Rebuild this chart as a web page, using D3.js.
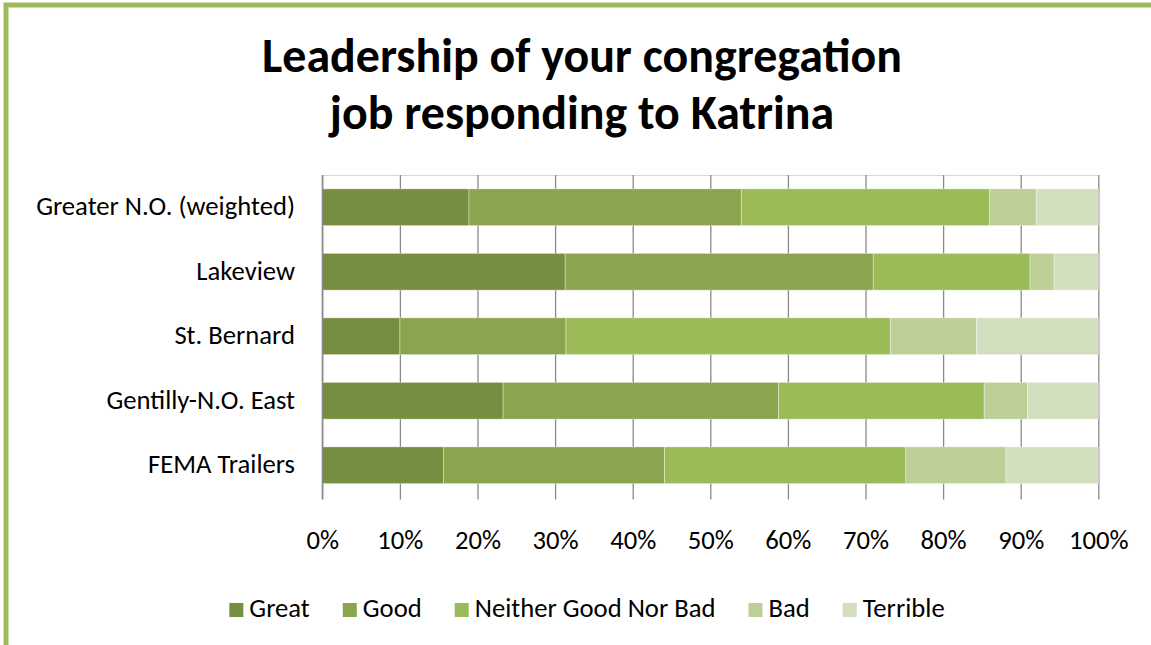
<!DOCTYPE html>
<html>
<head>
<meta charset="utf-8">
<script src="https://cdn.jsdelivr.net/npm/d3@7"></script>
<style>
  html, body { margin: 0; padding: 0; background: #ffffff; }
  svg { display: block; }
</style>
</head>
<body>
<svg id="chart" width="1151" height="645"></svg>
<script>
// ---- data ----
const categories = ["Greater N.O. (weighted)", "Lakeview", "St. Bernard", "Gentilly-N.O. East", "FEMA Trailers"];
const seriesNames = ["Great", "Good", "Neither Good Nor Bad", "Bad", "Terrible"];
const great    = [18.9, 31.3, 10.0, 23.3, 15.6];
const good     = [35.1, 39.7, 21.4, 35.5, 28.5];
const neither  = [32.0, 20.2, 41.8, 26.5, 31.1];
const bad      = [ 6.0,  3.1, 11.1,  5.6, 12.9];
const terrible = [ 8.0,  5.7, 15.7,  9.1, 11.9];
const tickValues = [0, 10, 20, 30, 40, 50, 60, 70, 80, 90, 100];
const tickLabels = ["0%", "10%", "20%", "30%", "40%", "50%", "60%", "70%", "80%", "90%", "100%"];
const titleLines = ["Leadership of your congregation", "job responding to Katrina"];

// ---- style ----
const colors = ["#768e40", "#8aa54e", "#9bbb59", "#bbcf97", "#d2dfbf"];
const FONT = "Carlito, Lato, 'Open Sans', sans-serif";

const svg = d3.select("#chart");
const W = 1151, H = 645;

// outer green frame (cropped at right / bottom)
svg.append("rect")
  .attr("x", 6).attr("y", 5)
  .attr("width", W + 40).attr("height", H + 40)
  .attr("fill", "#ffffff")
  .attr("stroke", "#9bbb59").attr("stroke-width", 5);

const plot = { left: 322.3, right: 1098.3, top: 175, bottom: 497.5 };

const x = d3.scaleLinear().domain([0, 100]).range([plot.left, plot.right]);
const y = d3.scaleBand().domain(categories)
  .range([plot.top, plot.bottom])
  .paddingInner(0.43).paddingOuter(0.215);

// plot top border
svg.append("line")
  .attr("x1", plot.left).attr("x2", plot.right)
  .attr("y1", plot.top + 0.5).attr("y2", plot.top + 0.5)
  .attr("stroke", "#d9d9d9").attr("stroke-width", 1);

// gridlines + tick labels via axis
const axisY = 499.5;
const xAxis = d3.axisBottom(x)
  .tickValues(tickValues)
  .tickFormat((d, i) => tickLabels[i])
  .tickSizeInner(-(axisY - plot.top))
  .tickSizeOuter(0);

const gAxis = svg.append("g")
  .attr("transform", `translate(0,${axisY})`)
  .call(xAxis);
gAxis.select(".domain").remove();
gAxis.selectAll(".tick line")
  .attr("stroke", "#8a8a8a").attr("stroke-width", 1.3);
gAxis.selectAll(".tick text")
  .attr("y", 548.5 - axisY).attr("dy", 0)
  .attr("fill", "#000000")
  .style("font-family", FONT);

// stacked bars
const rows = categories.map((c, i) => ({
  cat: c, Great: great[i], Good: good[i], "Neither Good Nor Bad": neither[i],
  Bad: bad[i], Terrible: terrible[i]
}));
const stacked = d3.stack().keys(seriesNames)(rows);

svg.append("g").selectAll("g")
  .data(stacked).join("g")
  .attr("fill", (d, i) => colors[i])
  .selectAll("rect")
  .data(d => d).join("rect")
  .attr("x", d => x(d[0]))
  .attr("width", d => x(d[1]) - x(d[0]))
  .attr("y", d => y(d.data.cat))
  .attr("height", y.bandwidth())
  .attr("stroke", "rgba(255,255,255,0.45)")
  .attr("stroke-width", 0.8);

// left axis line
svg.append("line")
  .attr("x1", plot.left).attr("x2", plot.left)
  .attr("y1", plot.top).attr("y2", axisY)
  .attr("stroke", "#8a8a8a").attr("stroke-width", 1.3);

// category labels
const catLabels = svg.append("g").selectAll("text")
  .data(categories).join("text")
  .attr("x", 295)
  .attr("y", d => y(d) + y.bandwidth() / 2 + 8)
  .attr("text-anchor", "end")
  .attr("fill", "#000")
  .style("font-family", FONT)
  .text(d => d);

// fit body font size to reference width of first category label
let bodySize = 24;
catLabels.style("font-size", bodySize + "px");
const w0 = catLabels.nodes()[0].getComputedTextLength();
bodySize = bodySize * 259 / w0;
catLabels.style("font-size", bodySize + "px");
gAxis.selectAll(".tick text").style("font-size", bodySize + "px");

// title
const title = svg.append("g").selectAll("text")
  .data(titleLines).join("text")
  .attr("x", 582)
  .attr("y", (d, i) => 72 + i * 56.5)
  .attr("text-anchor", "middle")
  .attr("fill", "#000")
  .style("font-family", FONT)
  .style("font-weight", "bold")
  .style("font-size", "44px")
  .text(d => d);
const tw = title.nodes()[0].getComputedTextLength();
title.style("font-size", (44 * 640 / tw) + "px");

// legend
const legend = svg.append("g");
const items = legend.selectAll("g").data(seriesNames).join("g");
items.append("rect")
  .attr("width", 14).attr("height", 14)
  .attr("y", 603)
  .attr("fill", (d, i) => colors[i]);
items.append("text")
  .attr("y", 616.5)
  .attr("fill", "#000")
  .style("font-family", FONT)
  .style("font-size", bodySize + "px")
  .text(d => d);
// flow layout
const gapKey = 6, gapItem = 33;
let cursor = 0;
const widths = [];
items.each(function () {
  const t = d3.select(this).select("text").node().getComputedTextLength();
  widths.push(t);
});
const total = d3.sum(widths) + seriesNames.length * (14 + gapKey) + (seriesNames.length - 1) * gapItem;
let start = 587 - total / 2;
items.each(function (d, i) {
  const g = d3.select(this);
  g.select("rect").attr("x", start);
  g.select("text").attr("x", start + 14 + gapKey);
  start += 14 + gapKey + widths[i] + gapItem;
});
</script>
</body>
</html>
